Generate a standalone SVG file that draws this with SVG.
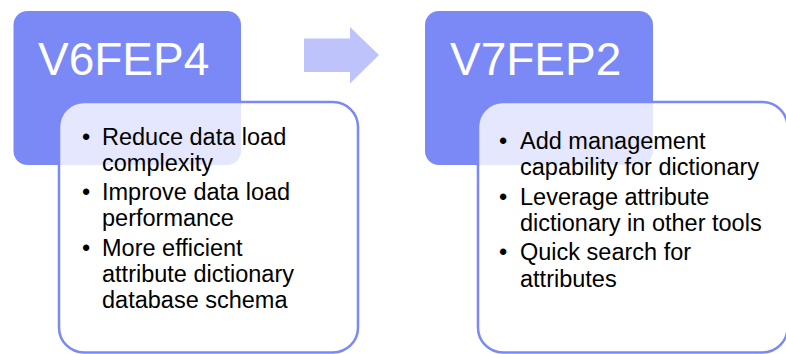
<svg xmlns="http://www.w3.org/2000/svg" width="786" height="354" viewBox="0 0 786 354">
<style>
.hdr{fill:#7A89F5;}
.card{fill:#ffffff;fill-opacity:0.8;stroke:#7A89F5;stroke-width:2.5;}
.title{font-family:"Liberation Sans",Arial,sans-serif;font-size:46px;fill:#ffffff;}
.txt{font-family:"Liberation Sans",Arial,sans-serif;font-size:23.5px;fill:#000000;}
.bul{font-family:"Liberation Sans",Arial,sans-serif;font-size:23.5px;fill:#000000;text-anchor:middle;}
</style>
<rect width="786" height="354" fill="#ffffff"/>
<g id="v6fep4">
<rect class="hdr" x="13.5" y="11" width="227.5" height="154" rx="14"/>
<text class="title" x="38" y="75">V6FEP4</text>
<rect class="card" x="59" y="102" width="299" height="250.5" rx="25"/>
<text class="bul" x="86" y="145">•</text>
<text class="txt" x="102" y="145">Reduce data load</text>
<text class="txt" x="102" y="171">complexity</text>
<text class="bul" x="86" y="200">•</text>
<text class="txt" x="102" y="200">Improve data load</text>
<text class="txt" x="102" y="226">performance</text>
<text class="bul" x="86" y="256">•</text>
<text class="txt" x="102" y="256">More efficient</text>
<text class="txt" x="102" y="282">attribute dictionary</text>
<text class="txt" x="102" y="308">database schema</text>
</g>
<g id="v7fep2">
<rect class="hdr" x="425" y="11" width="228" height="154" rx="14"/>
<text class="title" x="450" y="75">V7FEP2</text>
<rect class="card" x="478" y="102" width="309.5" height="250.5" rx="25"/>
<text class="bul" x="503" y="149">•</text>
<text class="txt" x="520" y="149">Add management</text>
<text class="txt" x="520" y="175">capability for dictionary</text>
<text class="bul" x="503" y="205">•</text>
<text class="txt" x="520" y="205">Leverage attribute</text>
<text class="txt" x="520" y="231">dictionary in other tools</text>
<text class="bul" x="503" y="260">•</text>
<text class="txt" x="520" y="260">Quick search for</text>
<text class="txt" x="520" y="287">attributes</text>
</g>
<g id="connectors">
<polygon points="304,38.5 350,38.5 350,27 379,55 350,83.5 350,72 304,72" fill="#BEC4FB"/>
</g>
</svg>
